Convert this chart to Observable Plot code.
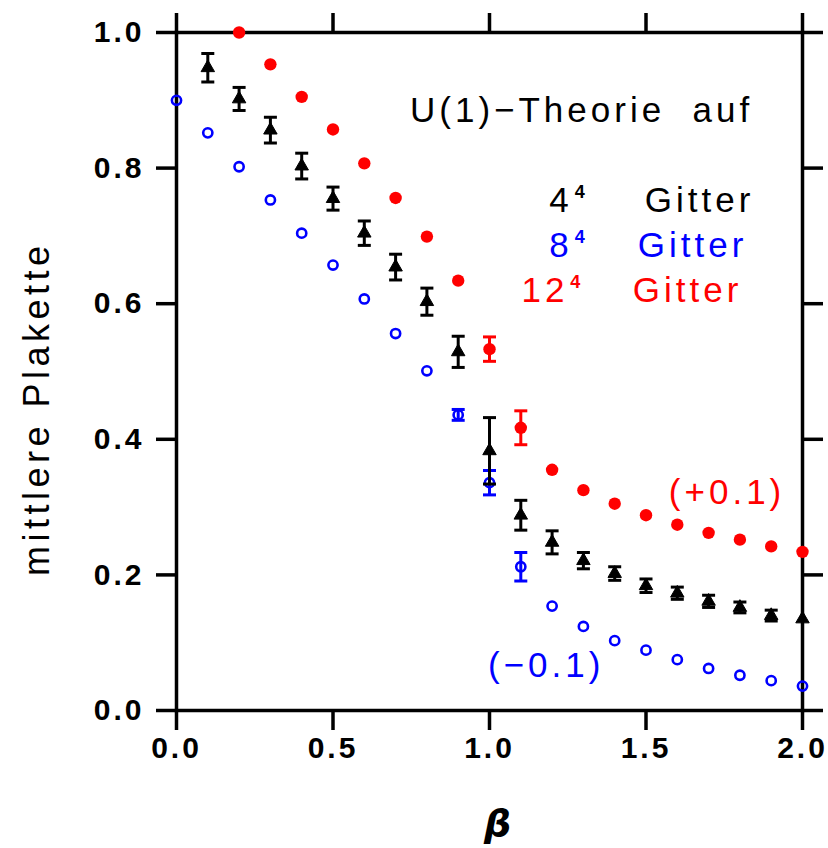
<!DOCTYPE html>
<html>
<head>
<meta charset="utf-8">
<script src="https://cdn.jsdelivr.net/npm/d3@7"></script>
<script src="https://cdn.jsdelivr.net/npm/@observablehq/plot@0.6"></script>
<style>
  html, body { margin: 0; padding: 0; background: white; }
</style>
</head>
<body>
<div id="chart"></div>
<script>
// 8^4 lattice (shifted by -0.1), open blue circles
const blueBeta = [0.0,0.1,0.2,0.3,0.4,0.5,0.6,0.7,0.8,0.9,1.0,1.1,1.2,1.3,1.4,1.5,1.6,1.7,1.8,1.9,2.0];
const blueVal  = [0.900,0.852,0.802,0.753,0.704,0.657,0.607,0.556,0.501,0.436,0.336,0.212,0.154,0.124,0.103,0.089,0.075,0.062,0.052,0.044,0.036];
const blueErr  = [0,0,0,0,0,0,0,0,0,0.008,0.018,0.021,0,0,0,0,0,0,0,0,0];

// 4^4 lattice, black triangles with error bars
const blackBeta = [0.1,0.2,0.3,0.4,0.5,0.6,0.7,0.8,0.9,1.0,1.1,1.2,1.3,1.4,1.5,1.6,1.7,1.8,1.9,2.0];
const blackVal  = [0.948,0.902,0.856,0.803,0.755,0.704,0.654,0.603,0.529,0.383,0.288,0.248,0.221,0.202,0.184,0.173,0.161,0.152,0.140,0.135];
const blackErr  = [0.021,0.017,0.019,0.019,0.017,0.018,0.019,0.020,0.023,0.049,0.022,0.017,0.012,0.010,0.010,0.009,0.009,0.008,0.008,0];

// 12^4 lattice (shifted by +0.1), filled red circles
const redBeta = [0.2,0.3,0.4,0.5,0.6,0.7,0.8,0.9,1.0,1.1,1.2,1.3,1.4,1.5,1.6,1.7,1.8,1.9,2.0];
const redVal  = [1.000,0.953,0.905,0.857,0.807,0.756,0.699,0.634,0.533,0.417,0.355,0.325,0.305,0.288,0.274,0.262,0.252,0.242,0.234];
const redErr  = [0,0,0,0,0,0,0,0,0.018,0.025,0,0,0,0,0,0,0,0,0];

const xTicks = [0, 0.5, 1.0, 1.5, 2.0];
const yTicks = [0, 0.2, 0.4, 0.6, 0.8, 1.0];

const RED = "#ff0000", BLUE = "#0000ff", BLACK = "#000000";

const toRows = (b, v, e) => b.map((x, i) => ({x, v: v[i], e: e[i]}));
const blue = toRows(blueBeta, blueVal, blueErr);
const black = toRows(blackBeta, blackVal, blackErr);
const red = toRows(redBeta, redVal, redErr);

const cap = { draw(ctx, size) { const w = 6.5; ctx.moveTo(-w, 0); ctx.lineTo(w, 0); } };

function errMarks(rows, color) {
  const r = rows.filter(d => d.e > 0);
  return [
    Plot.ruleX(r, {x: "x", y1: d => d.v - d.e, y2: d => d.v + d.e, stroke: color, strokeWidth: 3}),
    Plot.dot(r, {x: "x", y: d => d.v + d.e, symbol: cap, fill: "none", stroke: color, strokeWidth: 3}),
    Plot.dot(r, {x: "x", y: d => d.v - d.e, symbol: cap, fill: "none", stroke: color, strokeWidth: 3})
  ];
}

const FONT = "Liberation Sans, Arial, sans-serif";
const lbl = (txt, x, y, color, opts = {}) =>
  Plot.text([txt], {x: () => x, y: () => y, text: d => d, fill: color, fontSize: 35,
    textAnchor: "start", lineAnchor: "bottom", ...opts});

const chart = Plot.plot({
  width: 828,
  height: 848,
  marginLeft: 176,
  marginRight: 26,
  marginTop: 32,
  marginBottom: 138,
  x: {domain: [0, 2]},
  y: {domain: [0, 1]},
  style: `font-family: ${FONT}; letter-spacing: 3px; background: white; overflow: visible;`,
  marks: [
    Plot.frame({stroke: BLACK, strokeWidth: 3.5}),
    Plot.axisY({anchor: "left", ticks: yTicks, tickSize: 20, tickPadding: 12, tickFormat: d3.format(".1f"),
      fontSize: 30, fontWeight: "bold", fill: BLACK, stroke: BLACK, strokeWidth: 3.5, label: null}),
    Plot.axisY({anchor: "right", ticks: yTicks, tickSize: 20, tickFormat: () => "", stroke: BLACK, strokeWidth: 3.5, label: null}),
    Plot.axisX({anchor: "bottom", ticks: xTicks, tickSize: 20, tickPadding: 6, tickFormat: d3.format(".1f"),
      fontSize: 30, fontWeight: "bold", fill: BLACK, stroke: BLACK, strokeWidth: 3.5, label: null}),
    Plot.axisX({anchor: "top", ticks: xTicks, tickSize: 20, tickFormat: () => "", stroke: BLACK, strokeWidth: 3.5, label: null}),

    // axis titles
    Plot.text(["mittlere Plakette"], {x: () => -0.443, y: () => 0.445, text: d => d, rotate: -90,
      lineAnchor: "middle", fontSize: 36, fill: BLACK}),
    Plot.text(["β"], {frameAnchor: "bottom", lineAnchor: "bottom", dx: 10, dy: 125, fontSize: 38,
      fontWeight: "bold", fontStyle: "italic", fontFamily: "DejaVu Sans", fill: BLACK}),

    // data
    ...errMarks(blue, BLUE),
    Plot.dot(blue, {x: "x", y: "v", r: 4.6, fill: "none", stroke: BLUE, strokeWidth: 2.6}),
    ...errMarks(black, BLACK),
    Plot.dot(black, {x: "x", y: "v", symbol: "triangle", r: 5, fill: BLACK, stroke: BLACK, strokeWidth: 1}),
    ...errMarks(red, RED),
    Plot.dot(red, {x: "x", y: "v", r: 6.2, fill: RED}),

    // annotations
    lbl("U(1)\u2212Theorie  auf", 0.746, 0.868, BLACK),
    lbl("4", 1.266, 0.735, BLACK, {textAnchor: "end"}),
    lbl("4", 1.272, 0.735, BLACK, {fontSize: 18, fontWeight: "bold", dy: -14}),
    lbl("Gitter", 1.496, 0.735, BLACK),
    lbl("8", 1.266, 0.6686, BLUE, {textAnchor: "end"}),
    lbl("4", 1.272, 0.6686, BLUE, {fontSize: 18, fontWeight: "bold", dy: -14}),
    lbl("Gitter", 1.474, 0.6686, BLUE),
    lbl("12", 1.252, 0.602, RED, {textAnchor: "end"}),
    lbl("4", 1.258, 0.602, RED, {fontSize: 18, fontWeight: "bold", dy: -14}),
    lbl("Gitter", 1.458, 0.602, RED),
    lbl("(+0.1)", 1.573, 0.305, RED),
    lbl("(\u22120.1)", 0.995, 0.050, BLUE)
  ]
});

// wider letter spacing for the annotation / title texts (not the tick labels)
d3.select(chart).selectAll('g[aria-label="text"]').style("letter-spacing", "4px");
d3.select(chart).selectAll("text")
  .filter(function() { return this.textContent === "mittlere Plakette"; })
  .style("letter-spacing", "4.5px");
// base digits of the legend: no trailing spacing so the superscript sits tight
d3.select(chart).selectAll("text")
  .filter(function() { return ["4", "8", "12"].includes(this.textContent) && this.getAttribute("text-anchor") === "end"; })
  .style("letter-spacing", "1px");

document.getElementById("chart").appendChild(chart);
</script>
</body>
</html>
